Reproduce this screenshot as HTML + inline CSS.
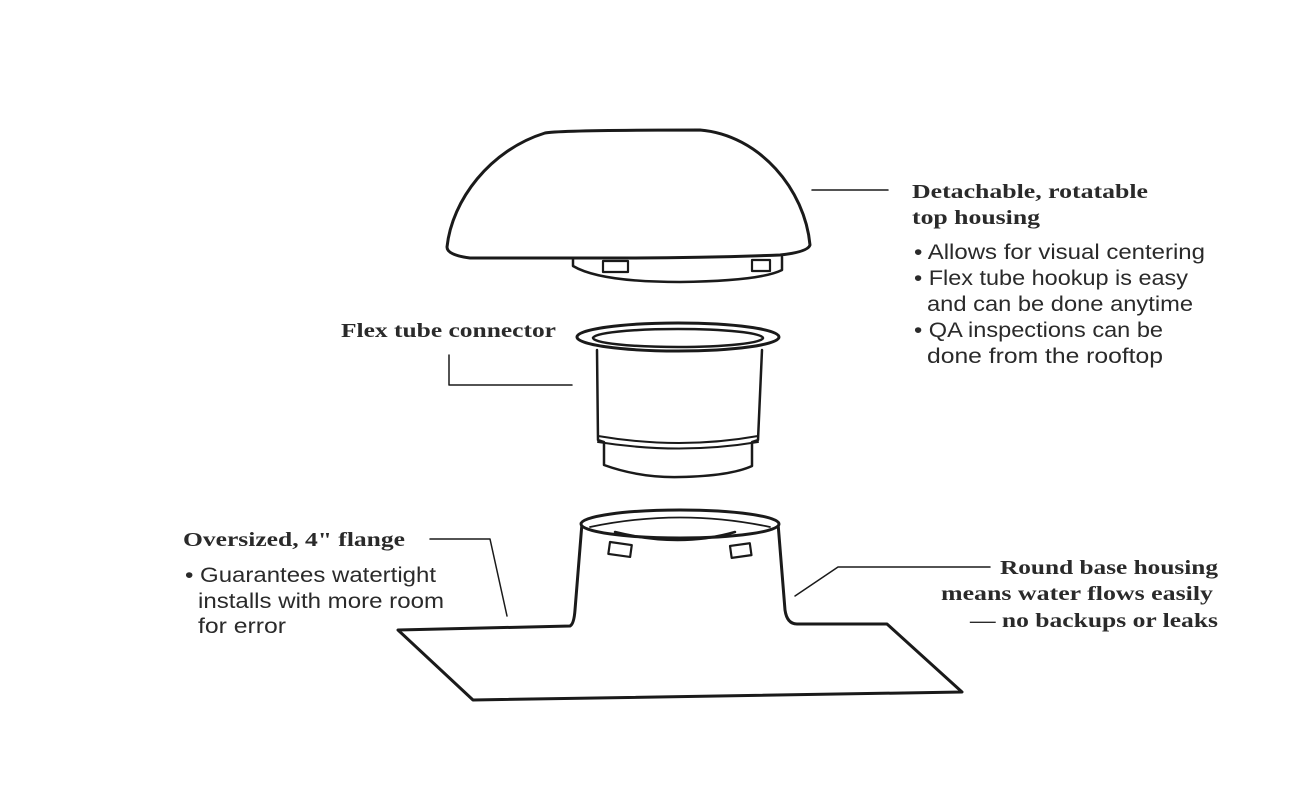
<!DOCTYPE html>
<html><head><meta charset="utf-8"><style>
html,body{margin:0;padding:0;background:#fff;width:1300px;height:804px;overflow:hidden}
svg{display:block}
.h{font-family:"Liberation Serif",serif;font-weight:bold;font-size:20px;fill:#2a2a2a}
.b{font-family:"Liberation Sans",sans-serif;font-size:21px;fill:#2a2a2a}
</style></head><body>
<svg width="1300" height="804" viewBox="0 0 1300 804" xmlns="http://www.w3.org/2000/svg">
<g fill="none" stroke="#1a1a1a" stroke-width="3" stroke-linejoin="round" stroke-linecap="round">
<path d="M573 258 L573 266 Q600 282 680 282 Q760 281 782 270 L782 257" stroke-width="2.5"/>
<rect x="603" y="261" width="25" height="11" stroke-width="2.2"/>
<rect x="752" y="260" width="18" height="11" stroke-width="2.2"/>
<path d="M447 247 C452 200 490 150 545 133 Q560 130 700 130 C760 135 805 190 810 245 Q808 252 780 255 Q700 258 620 258 Q510 258 470 258 Q447 255 447 247 Z" fill="#fff"/>
<path d="M597 350 L598 440 L604 442 L604 465 Q640 478 680 477 Q730 476 752 466 L752 442 L758 440 L762 350" stroke-width="2.5"/>
<path d="M598 436 Q680 450 758 436" stroke-width="2"/>
<path d="M598 442 Q680 455 758 442" stroke-width="2"/>
<ellipse cx="678" cy="337" rx="101" ry="14" fill="#fff"/>
<ellipse cx="678" cy="338" rx="85" ry="9" stroke-width="2.5"/>
<path d="M398 630 L570 626 Q574 624 575 610 L582 523 L778 523 L785 610 Q787 624 797 624 L887 624 L962 692 L473 700 Z" fill="#fff"/>
<ellipse cx="680" cy="524" rx="99" ry="14" fill="#fff"/>
<path d="M590 527 Q680 508 770 527" stroke-width="1.8"/>
<path d="M615 532 Q680 548 735 532" stroke-width="2.5"/>
<rect x="0" y="0" width="22" height="12" transform="translate(610,542) rotate(8)" stroke-width="2.2"/>
<rect x="0" y="0" width="20" height="12" transform="translate(730,546) rotate(-8)" stroke-width="2.2"/>
<g stroke-width="1.5">
<path d="M812 190 L888 190"/>
<path d="M449 355 L449 385 L572 385"/>
<path d="M430 539 L490 539 L507 616"/>
<path d="M795 596 L838 567 L990 567"/>
</g>
</g>
<text class="h" x="912" y="198" textLength="236" lengthAdjust="spacingAndGlyphs">Detachable, rotatable</text>
<text class="h" x="912" y="224" textLength="128" lengthAdjust="spacingAndGlyphs">top housing</text>
<text class="b" x="914" y="259" textLength="291" lengthAdjust="spacingAndGlyphs">• Allows for visual centering</text>
<text class="b" x="914" y="285" textLength="274" lengthAdjust="spacingAndGlyphs">• Flex tube hookup is easy</text>
<text class="b" x="927" y="311" textLength="266" lengthAdjust="spacingAndGlyphs">and can be done anytime</text>
<text class="b" x="914" y="337" textLength="249" lengthAdjust="spacingAndGlyphs">• QA inspections can be</text>
<text class="b" x="927" y="363" textLength="236" lengthAdjust="spacingAndGlyphs">done from the rooftop</text>
<text class="h" x="341" y="337" textLength="215" lengthAdjust="spacingAndGlyphs">Flex tube connector</text>
<text class="h" x="183" y="546" textLength="222" lengthAdjust="spacingAndGlyphs">Oversized, 4" flange</text>
<text class="b" x="185" y="582" textLength="251" lengthAdjust="spacingAndGlyphs">• Guarantees watertight</text>
<text class="b" x="198" y="608" textLength="246" lengthAdjust="spacingAndGlyphs">installs with more room</text>
<text class="b" x="198" y="633" textLength="88" lengthAdjust="spacingAndGlyphs">for error</text>
<text class="h" x="1000" y="574" textLength="218" lengthAdjust="spacingAndGlyphs">Round base housing</text>
<text class="h" x="941" y="600" textLength="272" lengthAdjust="spacingAndGlyphs">means water flows easily</text>
<text class="h" x="970" y="627" textLength="248" lengthAdjust="spacingAndGlyphs">— no backups or leaks</text>
</svg>
</body></html>
